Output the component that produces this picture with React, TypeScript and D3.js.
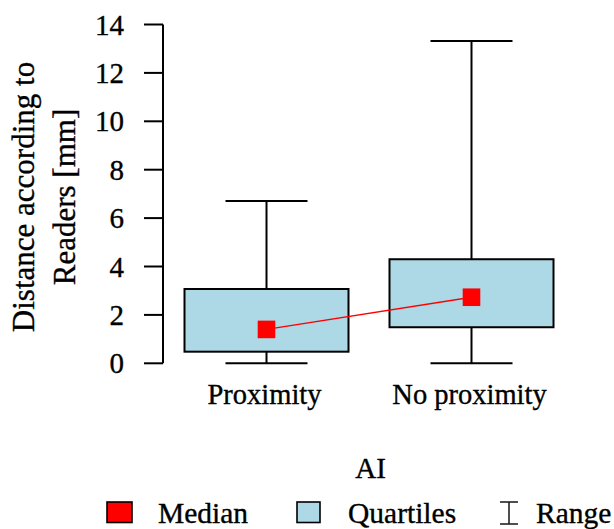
import React from "react";
import * as d3 from "d3";

const categories = ["Proximity", "No proximity"];
const mins = [0, 0];
const q1s = [0.48, 1.49];
const medians = [1.4, 2.73];
const q3s = [3.07, 4.3];
const maxs = [6.71, 13.32];
const yTicks = [0, 2, 4, 6, 8, 10, 12, 14];
const legendLabels = ["Median", "Quartiles", "Range"];

const W = 614;
const H = 529;
const FONT = '"Liberation Serif"';

export default function App() {
  const y = d3.scaleLinear().domain([0, 14]).range([363.3, 24.5]);
  const x = d3
    .scaleBand<string>()
    .domain(categories)
    .range([164, 574])
    .paddingInner(0.2)
    .paddingOuter(0.1);
  const bw = x.bandwidth();
  const cx = (c: string) => (x(c) as number) + bw / 2;
  const axisX = 163;
  const msz = 17.6;
  const ts = { fontFamily: FONT };
  const tp = { fill: "#000", stroke: "#000", strokeWidth: 0.35, style: ts };

  const medLine = d3
    .line<number>()
    .x((_, i) => cx(categories[i]))
    .y((d) => y(d));

  return (
    <svg
      width={W}
      height={H}
      style={{ position: "absolute", left: 0, top: 0, background: "#fff" }}
    >
      {/* y axis */}
      <line x1={axisX} x2={axisX} y1={y(0)} y2={y(14)} stroke="#000" strokeWidth={2} />
      {yTicks.map((t) => (
        <g key={t}>
          <line x1={144} x2={axisX} y1={y(t)} y2={y(t)} stroke="#000" strokeWidth={2} />
          <text x={124} y={y(t) + 10} textAnchor="end" fontSize={29} {...tp}>
            {t}
          </text>
        </g>
      ))}
      <text
        transform={`translate(34,197) rotate(-90)`}
        textAnchor="middle"
        fontSize={31}
        {...tp}
      >
        Distance according to
      </text>
      <text
        transform={`translate(75,197) rotate(-90)`}
        textAnchor="middle"
        fontSize={31}
        {...tp}
      >
        Readers [mm]
      </text>

      {/* boxes */}
      {categories.map((c, i) => {
        const x0 = x(c) as number;
        const xc = cx(c);
        return (
          <g key={c}>
            <line x1={xc} x2={xc} y1={y(q3s[i])} y2={y(maxs[i])} stroke="#000" strokeWidth={2} />
            <line x1={xc} x2={xc} y1={y(q1s[i])} y2={y(mins[i])} stroke="#000" strokeWidth={2} />
            <line x1={xc - bw / 4} x2={xc + bw / 4} y1={y(maxs[i])} y2={y(maxs[i])} stroke="#000" strokeWidth={2} />
            <line x1={xc - bw / 4} x2={xc + bw / 4} y1={y(mins[i])} y2={y(mins[i])} stroke="#000" strokeWidth={2} />
            <rect
              x={x0}
              y={y(q3s[i])}
              width={bw}
              height={y(q1s[i]) - y(q3s[i])}
              fill="#add8e6"
              stroke="#000"
              strokeWidth={2}
            />
            <text x={xc - 2} y={404} textAnchor="middle" fontSize={28.5} {...tp}>
              {c}
            </text>
          </g>
        );
      })}

      {/* median line and markers */}
      <path d={medLine(medians) || ""} fill="none" stroke="#ff0000" strokeWidth={1.3} />
      {categories.map((c, i) => (
        <rect
          key={c}
          x={cx(c) - msz / 2}
          y={y(medians[i]) - msz / 2}
          width={msz}
          height={msz}
          fill="#ff0000"
        />
      ))}

      {/* x axis title */}
      <text x={370.5} y={478} textAnchor="middle" fontSize={29} {...tp}>
        AI
      </text>

      {/* legend */}
      <rect x={107} y={502} width={25} height={20.5} fill="#ff0000" stroke="#000" strokeWidth={1.6} />
      <text x={158} y={523} fontSize={29.5} {...tp}>
        {legendLabels[0]}
      </text>
      <rect x={297} y={502} width={23} height={20.5} fill="#add8e6" stroke="#000" strokeWidth={1.6} />
      <text x={348} y={523} fontSize={29.5} {...tp}>
        {legendLabels[1]}
      </text>
      <g stroke="#222" strokeWidth={1.6}>
        <line x1={509} x2={509} y1={502} y2={524} />
        <line x1={500} x2={518} y1={502} y2={502} />
        <line x1={500} x2={518} y1={524} y2={524} />
      </g>
      <text x={536} y={523} fontSize={29.5} {...tp}>
        {legendLabels[2]}
      </text>
    </svg>
  );
}
